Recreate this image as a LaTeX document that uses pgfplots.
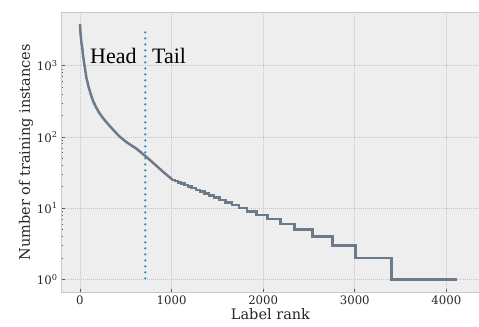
\documentclass[border=0pt]{standalone}
\usepackage{fontspec}
\setmainfont{DejaVu Serif}
\newfontfamily\timesfont{Liberation Serif}
\usepackage{pgfplots}
\pgfplotsset{compat=1.18}
\definecolor{bgc}{HTML}{EEEEEE}
\definecolor{gridc}{HTML}{C4C4C4}
\definecolor{edgec}{HTML}{C8C8C8}
\definecolor{linec}{RGB}{108,122,137}
\definecolor{bmhblue}{HTML}{348ABD}
\begin{document}
\begin{tikzpicture}
\begin{axis}[
  at={(61bp,34.3bp)}, anchor=south west,
  scale only axis, width=419bp, height=280.7bp,
  ymode=log,
  xmin=-207, xmax=4367, ymin=0.648, ymax=5680,
  axis background/.style={fill=bgc},
  axis line style={edgec, line width=0.8bp},
  grid=major,
  major grid style={gridc, dash pattern=on 1bp off 1bp, line width=0.6bp},
  tick align=inside, xtick pos=bottom, ytick pos=left,
  major tick length=4bp, minor tick length=2bp,
  tick style={black!65, line width=0.6bp},
  xtick={0,1000,2000,3000,4000},
  ytick={1,10,100,1000},
  yticklabels={10\textsuperscript{0},10\textsuperscript{1},10\textsuperscript{2},10\textsuperscript{3}},
  /pgf/number format/assume math mode=true,
  /pgf/number format/1000 sep={},
  ticklabel style={font=\fontsize{11.7bp}{13bp}\selectfont, text=black!85},
  xlabel={Label rank}, ylabel={Number of training instances},
  label style={font=\fontsize{14.5bp}{16bp}\selectfont, text=black!85},
  xlabel style={yshift=3bp},
  ylabel style={yshift=-3bp},
]
\addplot[linec, line width=2.5bp, line join=round] coordinates {
(1,3850) (5,3000) (10,2500) (15,2150) (25,1770) (35,1350) (50,1000) (70,680)
(95,500) (120,390) (145,315) (175,262) (210,218) (254,182) (300,155) (364,125)
(437,100) (510,84) (619,68) (728,52) (800,43) (900,33) (1010,25)
};
\addplot[linec, line width=2.5bp, const plot mark left, line join=miter] coordinates {
(1010,25) (1040,24) (1070,23) (1105,22) (1140,21) (1180,20) (1220,19) (1265,18)
(1310,17) (1360,16) (1410,15) (1465,14) (1525,13) (1590,12) (1660,11) (1735,10)
(1826,9) (1929,8) (2049,7) (2191,6) (2340,5) (2536,4) (2759,3) (3010,2) (3403,1) (4118,1)
};
\addplot[bmhblue, line width=2.6bp, line cap=round, dash pattern=on 0bp off 6bp] coordinates {(713,1.03) (713,3100)};
\node[font=\timesfont\fontsize{22bp}{24bp}\selectfont, anchor=base west, inner sep=0pt] at (axis cs:109,1090) {Head};
\node[font=\timesfont\fontsize{22bp}{24bp}\selectfont, anchor=base west, inner sep=0pt] at (axis cs:786,1090) {Tail};
\end{axis}
\pgfresetboundingbox
\path (0,0) rectangle (479bp,327bp);
\end{tikzpicture}
\end{document}
